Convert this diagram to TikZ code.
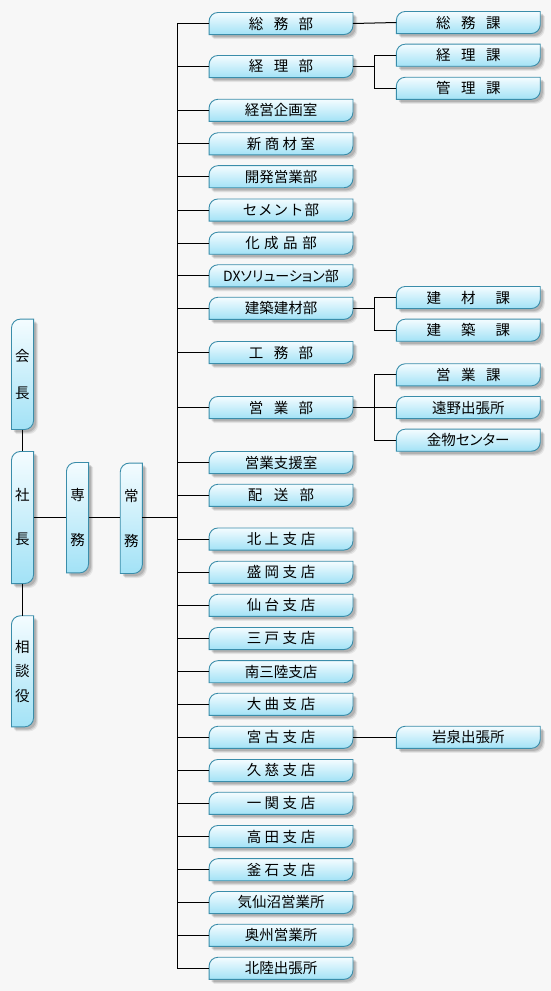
\documentclass[tikz,border=0pt]{standalone}
\usepackage{fontspec}
\setmainfont{Noto Sans CJK JP}
\newfontfamily\paltfont[RawFeature=+palt]{Noto Sans CJK JP}
\usetikzlibrary{calc}
\definecolor{bgc}{HTML}{F7F7F7}
\definecolor{bord}{HTML}{3A8DAA}
\definecolor{ftop}{HTML}{F4FCFF}
\definecolor{fbot}{HTML}{A2E2F6}
\pgfdeclarelayer{back}
\pgfdeclarelayer{canvas}
\pgfsetlayers{canvas,back,main}
\newcommand\gp[1]{\hspace*{#1pt}}
\newcommand\leafpath[3]{%
  ($(#1.south west)+(#2,#3)$) -- ($(#1.north west)+(#2,#3+9)$)
  .. controls ($(#1.north west)+(#2,#3+4)$) and ($(#1.north west)+(#2+4,#3)$) .. ($(#1.north west)+(#2+9,#3)$)
  -- ($(#1.north east)+(#2,#3)$) -- ($(#1.south east)+(#2,#3-9)$)
  .. controls ($(#1.south east)+(#2,#3-4)$) and ($(#1.south east)+(#2-4,#3)$) .. ($(#1.south east)+(#2-9,#3)$) -- cycle}
\newcommand\leaf[1]{%
  \begin{pgfonlayer}{back}
    \fill[black,opacity=0.07] \leafpath{#1}{4.5}{4.5};
    \fill[black,opacity=0.10] \leafpath{#1}{3.5}{3.5};
    \fill[black,opacity=0.13] \leafpath{#1}{2.5}{2.5};
    \shade[top color=ftop,bottom color=fbot,draw=bord,line width=0.9pt] \leafpath{#1}{0}{0};
  \end{pgfonlayer}}
\begin{document}
\begin{tikzpicture}[x=1pt,y=-1pt,
  mid/.style={minimum width=143.5pt,minimum height=21.7pt,inner sep=0pt,font=\fontsize{14.5}{17}\selectfont},
  vbox/.style={minimum width=21.7pt,inner sep=0pt,align=center},
  con/.style={draw=black,line width=1pt}]
\begin{pgfonlayer}{canvas}
\fill[bgc] (0,0) rectangle (551,991);
\end{pgfonlayer}
\useasboundingbox (0,0) rectangle (551,991);
\coordinate (trunk) at (177,0);
\coordinate (brk) at (374,0);
% left column
\node[vbox,minimum height=110pt,font=\fontsize{14.5}{37}\selectfont] (kaicho) at (22.5,374.3) {会\\長};
\node[vbox,minimum height=131.7pt,font=\fontsize{14.5}{44}\selectfont] (shacho) at (22.5,517.5) {社\\長};
\node[vbox,minimum height=110.7pt,font=\fontsize{14.5}{24.5}\selectfont] (sodan) at (22.5,671.3) {相\\談\\役};
\node[vbox,minimum height=110pt,font=\fontsize{14.5}{45}\selectfont] (senmu) at (77.5,517.7) {専\\務};
\node[vbox,minimum height=110pt,font=\fontsize{14.5}{45}\selectfont] (jomu) at (131.3,518.3) {常\\務};
\foreach \n in {kaicho,shacho,sodan,senmu,jomu} {\leaf{\n}}
% middle column
\foreach \n/\y/\t in {
  soumubu/23.5/{総\gp{10.5}務\gp{10.5}部},
  keiribu/66.5/{経\gp{10.5}理\gp{10.5}部},
  keiei/110.3/{経営企画室},
  shinsho/143.8/{新\gp{3.4}商\gp{3.4}材\gp{3.4}室},
  kaihatsu/176.7/{開発営業部},
  cement/210/{セ\gp{1}メ\gp{1}ン\gp{1}ト\gp{1}部},
  kasei/243.2/{化\gp{4.5}成\gp{4.5}品\gp{4.5}部},
  dx/275.8/{{\paltfont\fontsize{14}{17}\selectfont DXソリューション部}},
  kenchiku/308.3/{建築建材部},
  koumu/352.5/{工\gp{10.5}務\gp{10.5}部},
  eigyobu/407.5/{営\gp{10.5}業\gp{10.5}部},
  shien/462.5/{営業支援室},
  haiso/495.3/{配\gp{11.5}送\gp{11.5}部},
  kitakami/539/{北\gp{3.5}上\gp{3.5}支\gp{3.5}店},
  morioka/572.3/{盛\gp{3.5}岡\gp{3.5}支\gp{3.5}店},
  sendai/605.3/{仙\gp{3.5}台\gp{3.5}支\gp{3.5}店},
  sannohe/638.5/{三\gp{3.5}戸\gp{3.5}支\gp{3.5}店},
  minami/671.7/{南三陸支店},
  omagari/704.3/{大\gp{3.5}曲\gp{3.5}支\gp{3.5}店},
  miyako/737.3/{宮\gp{3.5}古\gp{3.5}支\gp{3.5}店},
  kuji/770.5/{久\gp{3.5}慈\gp{3.5}支\gp{3.5}店},
  ichinoseki/803.3/{一\gp{3.5}関\gp{3.5}支\gp{3.5}店},
  takata/836.5/{高\gp{3.5}田\gp{3.5}支\gp{3.5}店},
  kamaishi/869.7/{釜\gp{3.5}石\gp{3.5}支\gp{3.5}店},
  kesennuma/902.5/{気仙沼営業所},
  oshu/935.3/{奥州営業所},
  hokuriku/968.3/{北陸出張所}} {
  \node[mid] (\n) at (281,\y) {\t};
  \leaf{\n}
  \draw[con] (\n.west) -- (\n.west -| trunk);
}
% right column
\foreach \n/\y/\t in {
  soumuka/22.5/{総\gp{10.5}務\gp{10.5}課},
  keirika/55.2/{経\gp{10.5}理\gp{10.5}課},
  kanrika/88.3/{管\gp{10.5}理\gp{10.5}課},
  kenzai/297.5/{建\gp{20}材\gp{20}課},
  kenchika/330.2/{建\gp{20}築\gp{20}課},
  eigyoka/374.8/{営\gp{10.5}業\gp{10.5}課},
  tono/407.5/{遠野出張所},
  kanamono/440.2/{金物{\paltfont センター}},
  iwaizumi/737.3/{岩泉出張所}} {
  \node[mid] (\n) at (468.3,\y) {\t};
  \leaf{\n}
}
% trunk and left connectors
\draw[con] (soumubu.west -| trunk) -- (hokuriku.west -| trunk);
\draw[con] (kaicho.south) -- (shacho.north);
\draw[con] (shacho.south) -- (sodan.north);
\draw[con] (shacho.east) -- (senmu.west |- shacho.east);
\draw[con] (senmu.east |- shacho.east) -- (jomu.west |- shacho.east);
\draw[con] (jomu.east |- shacho.east) -- (trunk |- shacho.east);
% branches
\draw[con] (soumubu.east) -- (soumuka.west);
\draw[con] (keiribu.east) -- (keiribu.east -| brk);
\draw[con] (keirika.west) -| (kanrika.west -| brk) -- (kanrika.west);
\draw[con] (kenchiku.east) -- (kenchiku.east -| brk);
\draw[con] (kenzai.west) -| (kenchika.west -| brk) -- (kenchika.west);
\draw[con] (eigyobu.east) -- (tono.west);
\draw[con] (eigyoka.west) -| (kanamono.west -| brk) -- (kanamono.west);
\draw[con] (miyako.east) -- (iwaizumi.west);
\end{tikzpicture}
\end{document}
